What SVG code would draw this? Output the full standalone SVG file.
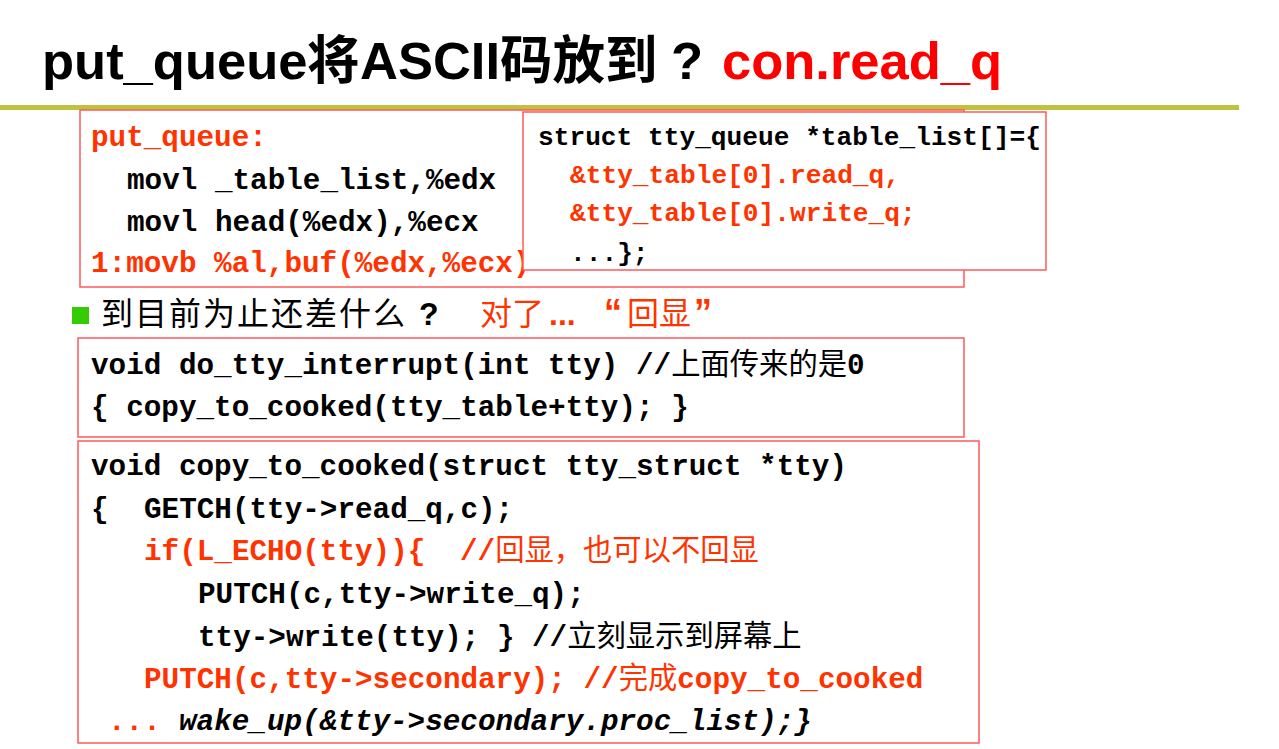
<svg xmlns="http://www.w3.org/2000/svg" width="1279" height="749" viewBox="0 0 1279 749">
<style>
.box{fill:#fff;stroke:#FF5A5A;stroke-width:1.5}
.code{font-family:"Liberation Mono","Noto Sans CJK SC",monospace;font-weight:bold;font-size:29.3px;fill:#000}
.code2{font-family:"Liberation Mono","Noto Sans CJK SC",monospace;font-weight:bold;font-size:26.2px;fill:#000}
.red{fill:#FF3300}
.cjk{font-family:"Noto Sans CJK SC",sans-serif;font-weight:normal}
.title{font-family:"Liberation Sans","Noto Sans CJK SC",sans-serif;font-weight:bold;font-size:52.5px;fill:#000}
.bul{font-family:"Noto Sans CJK SC","Liberation Sans",sans-serif;font-size:32px;fill:#000}
.lat{font-family:"Liberation Sans",sans-serif;font-weight:bold}
</style>
<rect width="1279" height="749" fill="#fff"/>
<g id="title">
<text class="title" y="79"><tspan x="42">put_queue</tspan><tspan x="307" font-family="Noto Sans CJK SC">将</tspan><tspan x="360">ASCII</tspan><tspan x="500" font-family="Noto Sans CJK SC">码放到</tspan><tspan x="671">?</tspan><tspan x="722" fill="#FF0000">con.read_q</tspan></text>
<rect x="0" y="105" width="1239" height="5" fill="#BFC23F"/>
</g>
<g id="box_put_queue">
<rect class="box" x="80" y="110" width="884" height="177"/>
<text class="code red" x="91" y="146">put_queue:</text>
<text class="code" x="127" y="189">movl _table_list,%edx</text>
<text class="code" x="127" y="231">movl head(%edx),%ecx</text>
<text class="code red" x="91" y="272">1:movb %al,buf(%edx,%ecx)</text>
</g>
<g id="box_table_list">
<rect class="box" x="523" y="112" width="523" height="158"/>
<text class="code2" x="538" y="145">struct tty_queue *table_list[]={</text>
<text class="code2 red" x="570" y="183">&amp;tty_table[0].read_q,</text>
<text class="code2 red" x="570" y="221">&amp;tty_table[0].write_q;</text>
<text class="code2" x="570" y="261">...};</text>
</g>
<g id="bullet">
<rect x="72" y="307" width="17" height="17" fill="#33CC00"/>
<text class="bul" y="325"><tspan x="101" letter-spacing="2">到目前为止还差什么</tspan><tspan x="419" class="lat">?</tspan></text>
<text class="bul" y="325" fill="#FF3300"><tspan x="480" fill="#FF3300">对了</tspan><tspan x="549" class="lat" fill="#FF3300">...</tspan><tspan x="604" class="lat" font-size="36" fill="#FF3300">“</tspan><tspan x="627" fill="#FF3300">回显</tspan><tspan x="694" class="lat" font-size="36" fill="#FF3300">”</tspan></text>
</g>
<g id="box_do_tty_interrupt">
<rect class="box" x="78" y="338" width="886" height="99"/>
<text class="code" x="91" y="374">void do_tty_interrupt(int tty) //<tspan class="cjk">上面传来的是</tspan>0</text>
<text class="code" x="91" y="416">{ copy_to_cooked(tty_table+tty); }</text>
</g>
<g id="box_copy_to_cooked">
<rect class="box" x="78" y="441" width="901" height="302"/>
<text class="code" x="91" y="475">void copy_to_cooked(struct tty_struct *tty)</text>
<text class="code" x="91" y="518">{</text>
<text class="code" x="144" y="518">GETCH(tty-&gt;read_q,c);</text>
<text class="code red" x="144" y="560">if(L_ECHO(tty)){</text>
<text class="code red" x="460" y="560">//<tspan class="cjk">回显，也可以不回显</tspan></text>
<text class="code" x="198" y="603">PUTCH(c,tty-&gt;write_q);</text>
<text class="code" x="198" y="646">tty-&gt;write(tty); } //<tspan class="cjk">立刻显示到屏幕上</tspan></text>
<text class="code red" x="144" y="688">PUTCH(c,tty-&gt;secondary); //<tspan class="cjk">完成</tspan>copy_to_cooked</text>
<text class="code" x="108" y="730"><tspan class="red">...</tspan><tspan x="179" font-style="italic">wake_up(&amp;tty-&gt;secondary.proc_list);}</tspan></text>
</g>
</svg>
